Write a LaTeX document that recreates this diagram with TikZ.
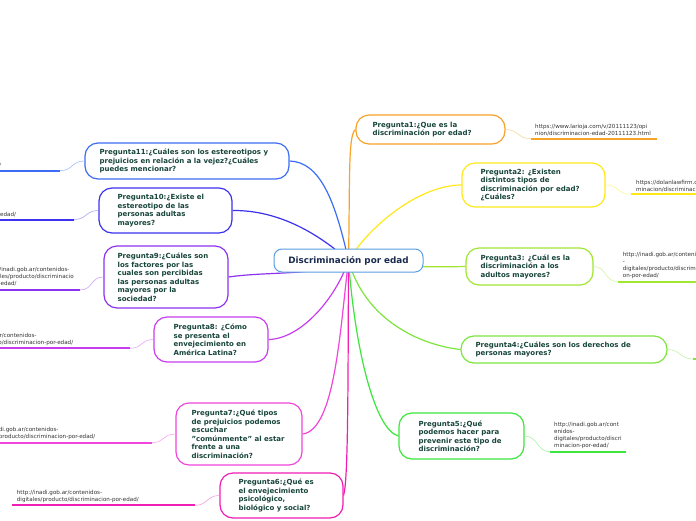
\documentclass[tikz,border=0pt]{standalone}
\usepackage{fontspec}
\setmainfont{DejaVu Sans}
\usetikzlibrary{backgrounds}
\definecolor{c1}{HTML}{F7A229}
\definecolor{c2}{HTML}{FFE819}
\definecolor{c3}{HTML}{A0E632}
\definecolor{c4}{HTML}{7CE63C}
\definecolor{c5}{HTML}{3CE63C}
\definecolor{c6}{HTML}{F01EB4}
\definecolor{c7}{HTML}{F046DC}
\definecolor{c8}{HTML}{C83CF0}
\definecolor{c9}{HTML}{8C32F0}
\definecolor{c10}{HTML}{3C32F0}
\definecolor{c11}{HTML}{3C6EF5}
\definecolor{cm}{HTML}{5A9FE0}
\definecolor{qtxt}{HTML}{17453A}
\definecolor{mtxt}{HTML}{1B2B4F}
\definecolor{urlgray}{HTML}{333333}
\tikzset{
 qbox/.style={draw=#1, line width=1.2pt, rounded corners=13pt, fill=white, inner sep=0pt},
 qtext/.style={anchor=west, align=left, inner sep=0pt, font=\bfseries\fontsize{7}{8.5}\selectfont, text=qtxt},
 urltext/.style={anchor=south west, align=left, inner sep=0pt, font=\fontsize{5.6}{7}\selectfont, text=urlgray},
 mainline/.style={line width=1.2pt, draw=#1},
 thinline/.style={line width=0.6pt, draw=#1!45},
 underline/.style={line width=2pt, draw=#1},
}
\begin{document}
\begin{tikzpicture}[x=1pt,y=-1pt]
\useasboundingbox (0,0) rectangle (696,520);
\clip (0,0) rectangle (696,520);
% center
\node[draw=cm, line width=1pt, rounded corners=8pt, fill=white, minimum width=149pt, minimum height=23pt, inner sep=0pt, font=\bfseries\fontsize{8.8}{10}\selectfont, text=mtxt] (m) at (348.5,260.5) {Discriminación por edad};
% question boxes
\node[qbox=c1, minimum width=149pt, minimum height=29pt] (q1) at (430.5,129.5) {};
\node[qtext] (q1t) at ([xshift=17pt]q1.west) {Pregunta1:¿Que es la\\discriminación por edad?};
\node[qbox=c2, minimum width=143pt, minimum height=44pt] (q2) at (533.5,185) {};
\node[qtext] (q2t) at ([xshift=19pt]q2.west) {Pregunta2: ¿Existen\\distintos tipos de\\discriminación por edad?\\¿Cuáles?};
\node[qbox=c3, minimum width=127pt, minimum height=37pt] (q3) at (529.5,266.5) {};
\node[qtext] (q3t) at ([xshift=15pt]q3.west) {Pregunta3: ¿Cuál es la\\discriminación a los\\adultos mayores?};
\node[qbox=c4, minimum width=206pt, minimum height=27pt] (q4) at (564,349.5) {};
\node[qtext] (q4t) at ([xshift=15pt]q4.west) {Pregunta4:¿Cuáles son los derechos de\\personas mayores?};
\node[qbox=c5, minimum width=125pt, minimum height=46pt] (q5) at (461.5,436) {};
\node[qtext] (q5t) at ([xshift=20pt]q5.west) {Pregunta5:¿Qué\\podemos hacer para\\prevenir este tipo de\\discriminación?};
\node[qbox=c6, minimum width=123pt, minimum height=45pt] (q6) at (281.5,495.5) {};
\node[qtext] (q6t) at ([xshift=19pt]q6.west) {Pregunta6:¿Qué es\\el envejecimiento\\psicológico,\\biológico y social?};
\node[qbox=c7, minimum width=126pt, minimum height=62pt] (q7) at (239,434) {};
\node[qtext] (q7t) at ([xshift=16pt]q7.west) {Pregunta7:¿Qué tipos\\de prejuicios podemos\\escuchar\\"comúnmente" al estar\\frente a una\\discriminación?};
\node[qbox=c8, minimum width=114pt, minimum height=45pt] (q8) at (211,339.5) {};
\node[qtext] (q8t) at ([xshift=20pt]q8.west) {Pregunta8: ¿Cómo\\se presenta el\\envejecimiento en\\América Latina?};
\node[qbox=c9, minimum width=124pt, minimum height=62pt] (q9) at (166,277) {};
\node[qtext] (q9t) at ([xshift=14pt]q9.west) {Pregunta9:¿Cuáles son\\los factores por las\\cuales son percibidas\\las personas adultas\\mayores por la\\sociedad?};
\node[qbox=c10, minimum width=133pt, minimum height=45pt] (q10) at (165.5,210.5) {};
\node[qtext] (q10t) at ([xshift=19pt]q10.west) {Pregunta10:¿Existe el\\estereotipo de las\\personas adultas\\mayores?};
\node[qbox=c11, minimum width=204pt, minimum height=36pt] (q11) at (187,161) {};
\node[qtext] (q11t) at ([xshift=15pt]q11.west) {Pregunta11:¿Cuáles son los estereotipos y\\prejuicios en relación a la vejez?¿Cuáles\\puedes mencionar?};
% url texts
\node[urltext] (u1t) at (535,136.2) {https://www.larioja.com/v/20111123/opi\\nion/discriminacion-edad-20111123.html};
\node[urltext] (u2t) at (636,191.8) {https://dolanlawfirm.com/\\minacion/discriminacion};
\node[urltext] (u3t) at (622.7,279.2) {http://inadi.gob.ar/contenidos\\-\\digitales/producto/discriminaci\\on-por-edad/};
\node[urltext] (u5t) at (554,449.2) {http://inadi.gob.ar/cont\\enidos-\\digitales/producto/discri\\minacion-por-edad/};
\node[urltext] (u6t) at (16.7,502.8) {http://inadi.gob.ar/contenidos-\\digitales/producto/discriminacion-por-edad/};
\node[urltext] (u7t) at (-27,440.2) {http://inadi.gob.ar/contenidos-\\digitales/producto/discriminacion-por-edad/};
\node[urltext] (u8t) at (-49,345.8) {http://inadi.gob.ar/contenidos-\\digitales/producto/discriminacion-por-edad/};
\node[urltext] (u9t) at (-16,287.3) {http://inadi.gob.ar/contenidos-\\digitales/producto/discriminacio\\n-por-edad/};
\node[urltext] (u10t) at (0,217) {edad/};
\node[urltext] (u11t) at (-1,168.2) {/};
% underline ends
\coordinate (u1a) at (530.7,138.7); \coordinate (u1b) at (657,138.7);
\coordinate (u2a) at (630.7,194.3); \coordinate (u2b) at (700,194.3);
\coordinate (u3a) at (617.7,281.7); \coordinate (u3b) at (700,281.7);
\coordinate (u4a) at (693,359); \coordinate (u4b) at (700,359);
\coordinate (u5a) at (550,451.7); \coordinate (u5b) at (626,451.7);
\coordinate (u6a) at (195,505.3); \coordinate (u6b) at (12,505.3);
\coordinate (u7a) at (151.7,442.7); \coordinate (u7b) at (-31,442.7);
\coordinate (u8a) at (130,348.3); \coordinate (u8b) at (-53,348.3);
\coordinate (u9a) at (80,290); \coordinate (u9b) at (-21,290);
\coordinate (u10a) at (74,219.5); \coordinate (u10b) at (-20,219.5);
\coordinate (u11a) at (60,170.7); \coordinate (u11b) at (-20,170.7);
\foreach \i in {1,...,11} {\draw[underline=c\i] (u\i a) -- (u\i b);}
% thin connectors
\foreach \i in {1,2,3,4,5} {\draw[thinline=c\i] (q\i.east) .. controls +(13,0) and +(-13,0) .. (u\i a);}
\foreach \i in {6,7,8,9,10,11} {\draw[thinline=c\i] (q\i.west) .. controls +(-13,0) and +(13,0) .. (u\i a);}
% main connectors
\begin{scope}[on background layer]
\fill[white] (0,0) rectangle (696,520);
\draw[mainline=c1] (m.center) .. controls (350,180) and (348,135) .. (q1.west);
\draw[mainline=c2] (m.center) .. controls (370,225) and (420,185) .. (q2.west);
\draw[mainline=c3] (m.center) .. controls (400,268) and (440,267) .. (q3.west);
\draw[mainline=c4] (m.center) .. controls (365,320) and (420,345) .. (q4.west);
\draw[mainline=c5] (m.center) .. controls (355,350) and (375,430) .. (q5.west);
\draw[mainline=c6] (m.center) .. controls (348,400) and (348,480) .. (q6.east);
\draw[mainline=c7] (m.center) .. controls (340,330) and (335,430) .. (q7.east);
\draw[mainline=c8] (m.center) .. controls (335,300) and (300,339) .. (q8.east);
\draw[mainline=c9] (m.center) .. controls (325,276) and (270,271) .. (q9.east);
\draw[mainline=c10] (m.center) .. controls (320,235) and (280,210) .. (q10.east);
\draw[mainline=c11] (m.center) .. controls (335,200) and (320,162) .. (q11.east);
\end{scope}
\end{tikzpicture}
\end{document}
